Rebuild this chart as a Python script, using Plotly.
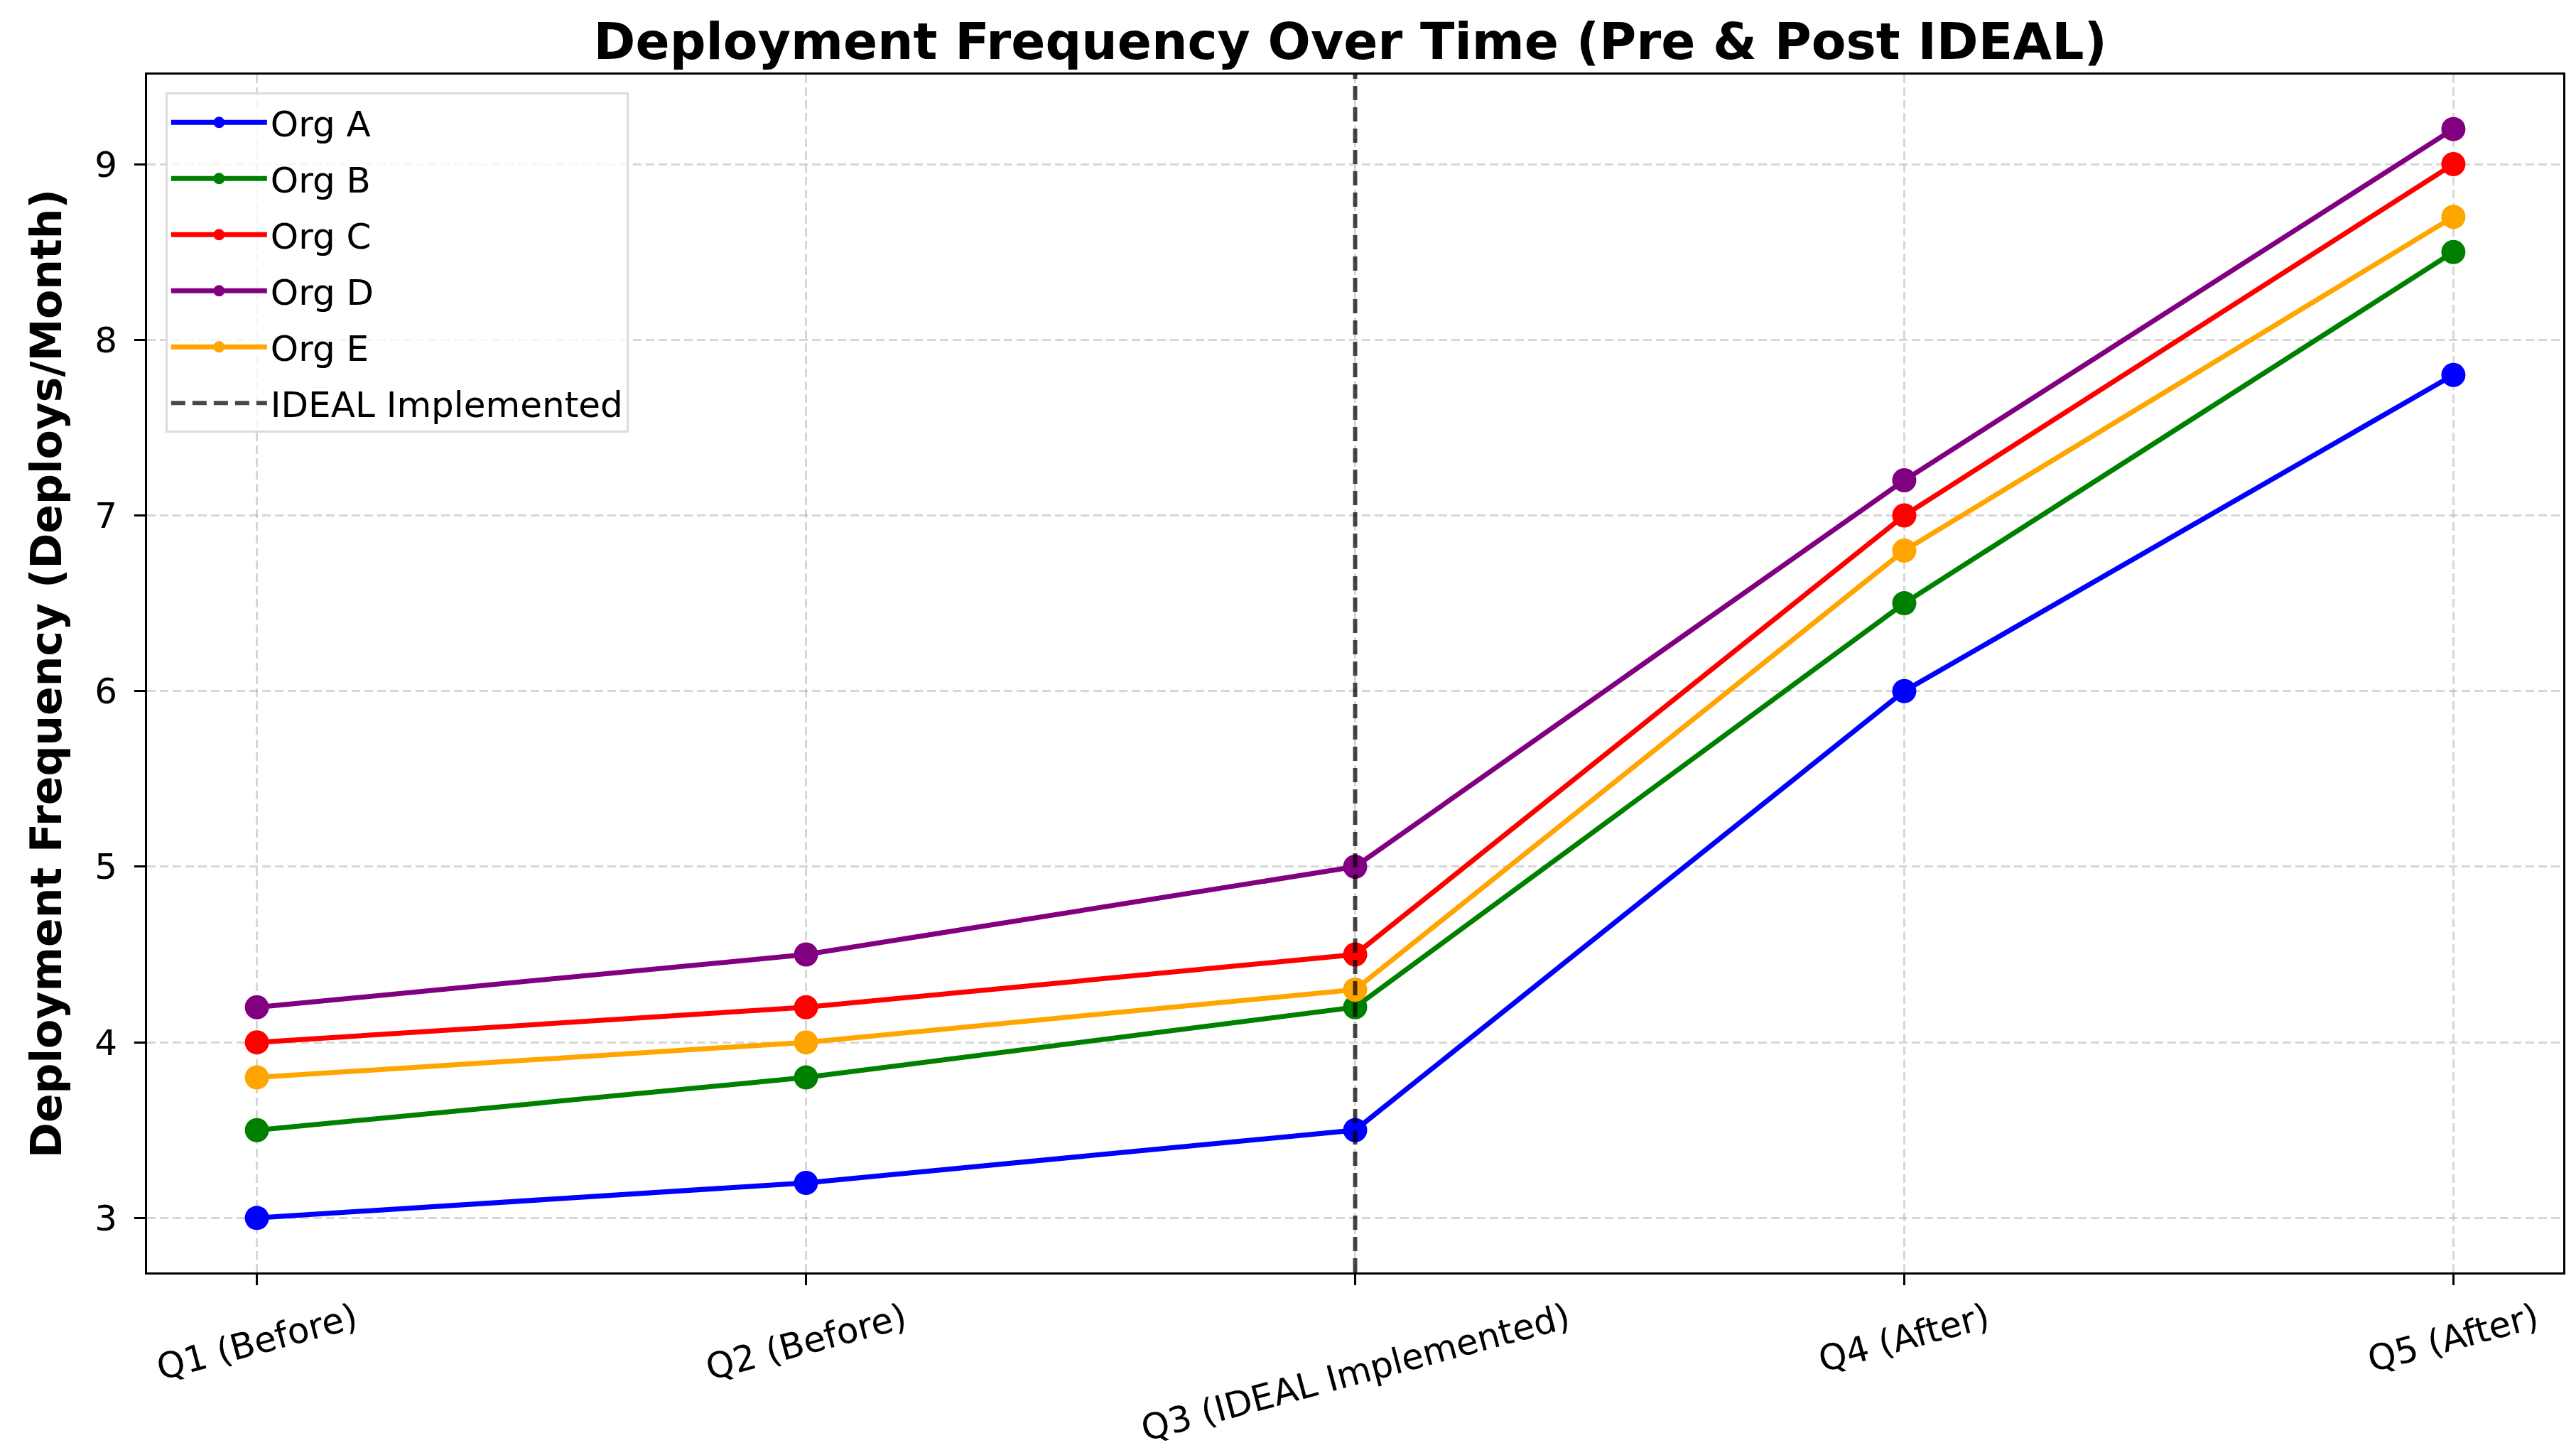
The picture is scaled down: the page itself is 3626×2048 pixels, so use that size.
import plotly.graph_objects as go

quarters = ["Q1 (Before)", "Q2 (Before)", "Q3 (IDEAL Implemented)", "Q4 (After)", "Q5 (After)"]
org_names = ["Org A", "Org B", "Org C", "Org D", "Org E"]
org_a = [3.0, 3.2, 3.5, 6.0, 7.8]
org_b = [3.5, 3.8, 4.2, 6.5, 8.5]
org_c = [4.0, 4.2, 4.5, 7.0, 9.0]
org_d = [4.2, 4.5, 5.0, 7.2, 9.2]
org_e = [3.8, 4.0, 4.3, 6.8, 8.7]
org_colors = ["blue", "green", "red", "purple", "orange"]
ideal_quarter = quarters[2]
y_ticks = [3, 4, 5, 6, 7, 8, 9]

font = "DejaVu Sans"

fig = go.Figure()
for name, vals, col in zip(org_names, [org_a, org_b, org_c, org_d, org_e], org_colors):
    fig.add_trace(go.Scatter(
        x=quarters, y=vals, name=name, mode="lines+markers",
        line=dict(color=col, width=7),
        marker=dict(size=34, color=col),
        legendgroup=name,
    ))

# the IDEAL line goes over the data, as in the original
fig.add_shape(
    type="line", xref="x", yref="paper",
    x0=ideal_quarter, x1=ideal_quarter, y0=0, y1=1,
    layer="above",
    line=dict(color="rgba(0,0,0,0.72)", width=6, dash="20px,10px"),
    showlegend=True, name="IDEAL Implemented", legendgroup="ideal",
)

# rotated x labels centred on their ticks
for q in quarters:
    fig.add_annotation(
        x=q, xref="x", y=0, yref="paper", yshift=-30,
        text=q, showarrow=False, textangle=-15,
        xanchor="center", yanchor="top",
        font=dict(family=font, size=50, color="black"),
    )

fig.update_layout(
    width=3626, height=2048,
    margin=dict(l=199, r=26, t=97, b=265),
    paper_bgcolor="white", plot_bgcolor="white",
    font=dict(family=font, size=50, color="black"),
    title=dict(
        text="Deployment Frequency Over Time (Pre & Post IDEAL)",
        font=dict(family=font, size=71, color="black", weight="bold"),
        x=0.522, xanchor="center", y=1 - 50 / 2048, yanchor="middle",
        xref="container", yref="container",
    ),
    legend=dict(
        x=0.0076, y=0.985, xanchor="left", yanchor="top",
        bgcolor="rgba(255,255,255,0.8)",
        bordercolor="#dcdcdc", borderwidth=3,
        font=dict(family=font, size=50, color="black"),
        itemwidth=135, tracegroupgap=11, traceorder="grouped",
    ),
    showlegend=True,
)

fig.update_xaxes(
    type="category", range=[-0.2, 4.2],
    showticklabels=False,
    ticks="outside", ticklen=15, tickwidth=3, tickcolor="black",
    showline=True, linecolor="black", linewidth=3, mirror=True,
    showgrid=True, gridcolor="rgba(176,176,176,0.5)", gridwidth=3, griddash="12px,6px",
    zeroline=False,
)
fig.update_yaxes(
    range=[2.69, 9.51], tickvals=y_ticks,
    ticks="outside", ticklen=15, tickwidth=3, tickcolor="black",
    ticklabelstandoff=14,
    tickfont=dict(family=font, size=50, color="black"),
    showline=True, linecolor="black", linewidth=3, mirror=True,
    showgrid=True, gridcolor="rgba(176,176,176,0.5)", gridwidth=3, griddash="12px,6px",
    zeroline=False,
    title=dict(
        text="Deployment Frequency (Deploys/Month)",
        font=dict(family=font, size=60, color="black", weight="bold"),
        standoff=28,
    ),
)

fig.write_html("out.html")
